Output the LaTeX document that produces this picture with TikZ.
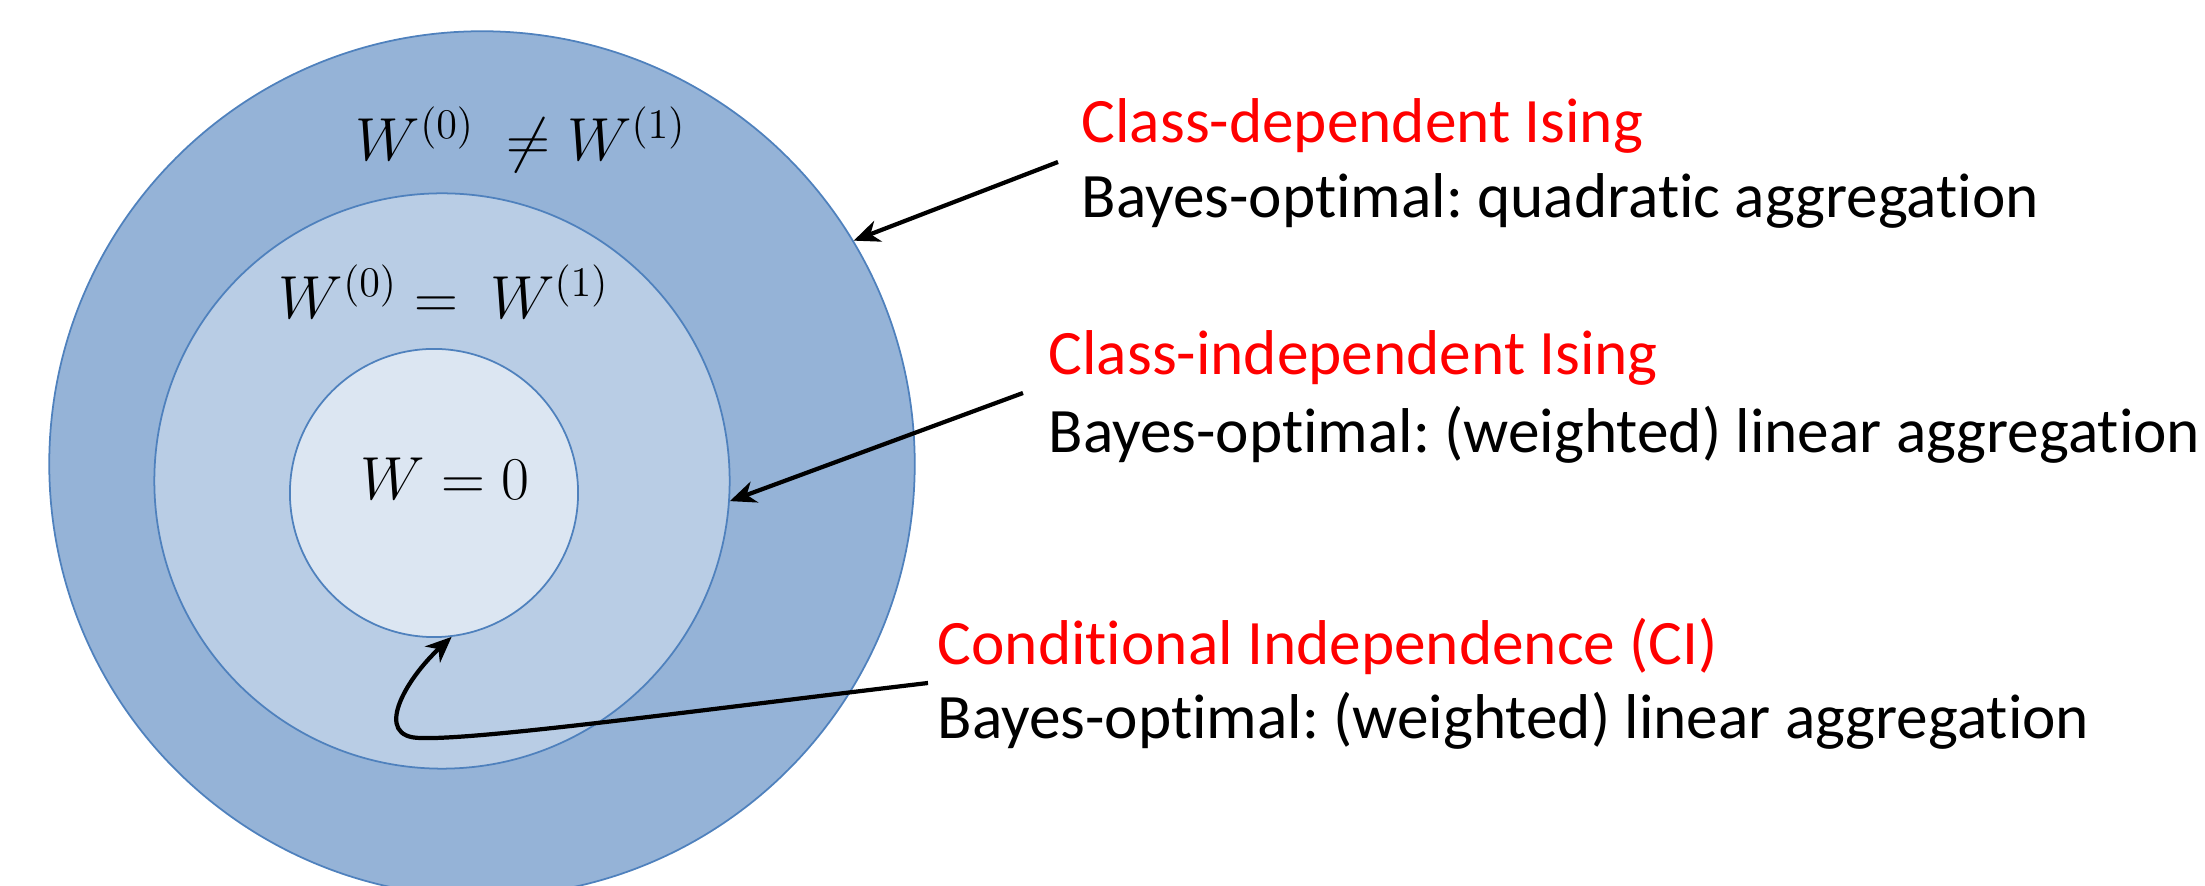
\documentclass[tikz,border=0pt]{standalone}
\usepackage{fontspec}
\setmainfont{Carlito}[Ligatures=NoCommon]
\frenchspacing
\usetikzlibrary{arrows.meta}
\definecolor{ringOuter}{RGB}{149,179,215}
\definecolor{ringMiddle}{RGB}{185,205,229}
\definecolor{ringInner}{RGB}{220,230,242}
\definecolor{ringEdge}{RGB}{79,129,189}
\tikzset{
  ring/.style={circle, draw=ringEdge, line width=0.5pt, inner sep=0pt},
  setlabel/.style={anchor=base, inner sep=0pt, font=\fontsize{18.6}{22}\selectfont},
  classname/.style={anchor=base west, inner sep=0pt, text=red, font=\fontsize{18}{21}\selectfont},
  classnote/.style={anchor=base west, inner sep=0pt, font=\fontsize{18}{21}\selectfont},
  pointer/.style={-{Stealth[length=0.26cm, width=0.22cm, inset=0.08cm]}, line width=1.2pt, black}
}
\begin{document}
\begin{tikzpicture}
% one unit = one pixel of the original slide, y pointing down
\def\px{0.01cm}
\begin{scope}[x=\px, y=-\px]
  \useasboundingbox (0,0) rectangle (2205,886);
  % Nested sets
  \node[ring, fill=ringOuter, minimum size=8.65cm] (outer) at (482,464) {};
  \node[ring, fill=ringMiddle, minimum size=5.75cm] (middle) at (442,481) {};
  \node[ring, fill=ringInner, minimum size=2.88cm] (inner) at (434,493) {};
  % Set conditions
  \node[setlabel] (neq) at (521,161) {$W^{(0)}\ \neq W^{(1)}$};
  \node[setlabel] (eq) at (444,319) {$W^{(0)} = \ W^{(1)}$};
  \node[setlabel] (zero) at (445,500) {$W = 0$};
  % Class-dependent Ising
  \node[classname] (cdname) at (1081,143) {Class-dependent Ising};
  \node[classnote] (cdnote) at (1081,218) {Bayes-optimal: quadratic aggregation};
  \coordinate (cdtail) at (1058,162);
  % Class-independent Ising
  \node[classname] (ciname) at (1048,375) {Class-independent Ising};
  \node[classnote] (cinote) at (1048,453) {Bayes-optimal: (weighted) linear aggregation};
  \coordinate (citail) at (1023,393);
  % Conditional independence
  \node[classname] (indname) at (937,665) {Conditional Independence (CI)};
  \node[classnote] (indnote) at (937,739) {Bayes-optimal: (weighted) linear aggregation};
  \coordinate (indtail) at (928,683);
  % Pointers
  \draw[pointer] (cdtail) -- (outer.31);
  \draw[pointer] (citail) -- (middle.-4);
  \draw[pointer] (indtail) .. controls (700,710) and (480,740) .. (421,738)
    .. controls (372,738) and (405,680) .. (inner.-83);
\end{scope}
\end{tikzpicture}
\end{document}
